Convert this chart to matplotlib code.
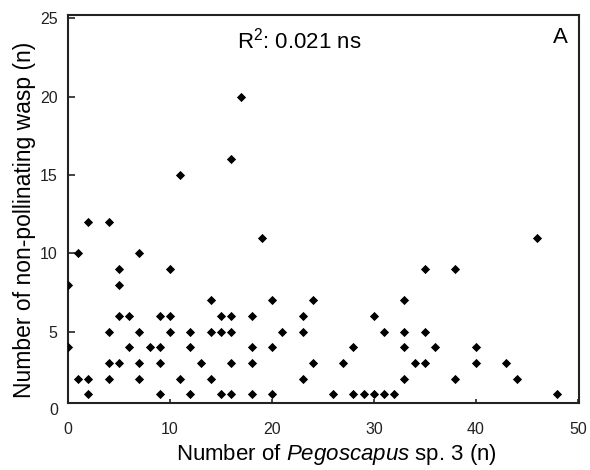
"""
Scatter of non-pollinating wasps against Pegoscapus sp. 3 counts.
"""

import matplotlib

matplotlib.use("Agg")
import matplotlib.pyplot as plt

# =============================================================================
# DATA
# =============================================================================

pegoscapus = [
    17, 16, 11,
    2, 4,
    1, 7,
    5, 10,
    0, 5,
    14,
    5, 6, 9, 10, 15, 16, 18,
    4, 7, 10, 12, 14, 15, 16,
    0, 6, 8, 9, 12, 18,
    4, 5, 7, 9, 13, 16, 18,
    1, 2, 4, 7, 11, 14,
    2, 9, 12, 15, 16, 18,
    19, 46,
    35, 38,
    20, 24, 33,
    23, 30,
    21, 23, 31, 33, 35,
    20, 28, 33, 36, 40,
    24, 27, 34, 35, 40, 43,
    23, 33, 38, 44,
    20, 26, 28, 29, 30, 31, 32, 48,
]

non_pollinating = [
    20, 16, 15,
    12, 12,
    10, 10,
    9, 9,
    8, 8,
    7,
    6, 6, 6, 6, 6, 6, 6,
    5, 5, 5, 5, 5, 5, 5,
    4, 4, 4, 4, 4, 4,
    3, 3, 3, 3, 3, 3, 3,
    2, 2, 2, 2, 2, 2,
    1, 1, 1, 1, 1, 1,
    11, 11,
    9, 9,
    7, 7, 7,
    6, 6,
    5, 5, 5, 5, 5,
    4, 4, 4, 4, 4,
    3, 3, 3, 3, 3, 3,
    2, 2, 2, 2,
    1, 1, 1, 1, 1, 1, 1, 1,
]

x_ticks = [0, 10, 20, 30, 40, 50]
y_ticks = [5, 10, 15, 20, 25]

# =============================================================================
# STYLE
# =============================================================================

plt.rcParams["font.family"] = ["Liberation Sans", "DejaVu Sans"]
plt.rcParams["mathtext.fontset"] = "custom"
plt.rcParams["mathtext.rm"] = "Liberation Sans"
plt.rcParams["mathtext.it"] = "Liberation Sans:italic"

TICK_FONT = ["Liberation Sans Narrow", "Liberation Sans", "DejaVu Sans"]
TICK_SIZE = 11.5

# =============================================================================
# FIGURE
# =============================================================================

figure = plt.figure(figsize=(5.9, 4.7), dpi=100)
axis = figure.add_axes([0.1153, 0.1426, 0.8657, 0.8254])

axis.scatter(
    pegoscapus,
    non_pollinating,
    marker="D",
    s=22,
    color="black",
    linewidths=0,
    zorder=3,
)

axis.set_xlim(0, 50.1)
axis.set_ylim(0.45, 25.2)

axis.set_xticks(x_ticks)
axis.set_yticks(y_ticks)
axis.set_xticklabels([str(v) for v in x_ticks], family=TICK_FONT, fontsize=TICK_SIZE)
axis.set_yticklabels([str(v) for v in y_ticks], family=TICK_FONT, fontsize=TICK_SIZE)

axis.tick_params(axis="x", direction="in", length=3, width=1.2, pad=13.5, colors="#222222")
axis.tick_params(axis="y", direction="in", length=5, width=1.2, pad=7.5, colors="#222222")

# zero label sits just below the clipped bottom spine
axis.text(
    -0.0195,
    0,
    "0",
    transform=axis.get_yaxis_transform(),
    ha="right",
    va="center",
    family=TICK_FONT,
    fontsize=TICK_SIZE,
    color="#222222",
    clip_on=False,
)

for spine in axis.spines.values():
    spine.set_linewidth(1.5)
    spine.set_color("#222222")

axis.set_xlabel(
    "Number of $\\it{Pegoscapus}$ sp. 3 (n)",
    fontsize=16,
    va="top",
)
axis.xaxis.set_label_coords(0.525, -0.100)

axis.set_ylabel(
    "Number of non-pollinating wasp (n)",
    fontsize=16.5,
    va="bottom",
)
axis.yaxis.set_label_coords(-0.062, 0.472)

axis.text(
    0.331,
    0.933,
    "R$^{2}$: 0.021 ns",
    transform=axis.transAxes,
    fontsize=16,
    ha="left",
    va="center",
)
axis.text(
    0.964,
    0.942,
    "A",
    transform=axis.transAxes,
    fontsize=16,
    ha="center",
    va="center",
)

figure.savefig("out.png", dpi=100)
